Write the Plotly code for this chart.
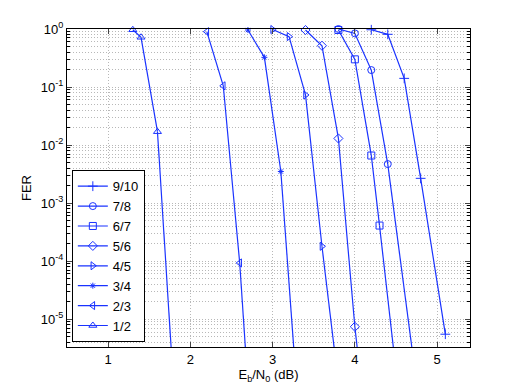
import plotly.graph_objects as go

# FER curves; last point of each sits below the y range
rates = ['9/10', '7/8', '6/7', '5/6', '4/5', '3/4', '2/3', '1/2']

ebn0_910 = [4.2, 4.4, 4.6, 4.8, 5.1]
fer_910 = [0.97, 0.81, 0.141, 0.00267, 5.5e-6]

ebn0_78 = [3.8, 4.0, 4.2, 4.4, 4.8]
fer_78 = [1.0, 0.84, 0.196, 0.0047, 2.3e-7]

ebn0_67 = [3.8, 4.0, 4.2, 4.3, 4.5]
fer_67 = [0.96, 0.30, 0.0066, 4.1e-4, 1.3e-6]

ebn0_56 = [3.4, 3.6, 3.8, 4.0, 4.1]
fer_56 = [0.96, 0.515, 0.013, 7.4e-6, 4e-7]

ebn0_45 = [3.0, 3.2, 3.4, 3.6, 3.8]
fer_45 = [0.98, 0.74, 0.073, 1.8e-4, 7.9e-7]

ebn0_34 = [2.7, 2.9, 3.1, 3.3]
fer_34 = [0.96, 0.325, 0.0035, 4.7e-7]

ebn0_23 = [2.2, 2.4, 2.6, 2.7]
fer_23 = [0.90, 0.105, 9.3e-5, 7e-7]

ebn0_12 = [1.3, 1.4, 1.6, 1.8]
fer_12 = [0.97, 0.72, 0.017, 5.6e-7]

xs = [ebn0_910, ebn0_78, ebn0_67, ebn0_56, ebn0_45, ebn0_34, ebn0_23, ebn0_12]
ys = [fer_910, fer_78, fer_67, fer_56, fer_45, fer_34, fer_23, fer_12]
symbols = ['cross-thin', 'circle-open', 'square-open', 'diamond-open',
           'triangle-right-open', 'asterisk-open', 'triangle-left-open',
           'triangle-up-open']
sizes = [7, 7, 7, 7, 7, 5, 7, 7]

x_ticks = [1, 2, 3, 4, 5]
y_ticks = [1e-5, 1e-4, 1e-3, 1e-2, 1e-1, 1]
y_ticktext = ['10<sup>-5</sup>', '10<sup>-4</sup>', '10<sup>-3</sup>',
              '10<sup>-2</sup>', '10<sup>-1</sup>', '10<sup>0</sup>']
y_minor = [k * 10.0 ** e for e in range(-6, 0) for k in range(2, 10)]

YMIN = 3.3e-6
BLUE = '#1a33ff'
GRID = '#b8b8b8'
DOTS = '1px,2px'

fig = go.Figure()
for name, x, y, sym, sz in zip(rates, xs, ys, symbols, sizes):
    vis_x = [a for a, b in zip(x, y) if b >= YMIN]
    vis_y = [b for b in y if b >= YMIN]
    # segment running off the bottom of the axes
    fig.add_trace(go.Scatter(x=x[len(vis_x) - 1:], y=y[len(vis_y) - 1:],
                             mode='lines', showlegend=False,
                             line=dict(color=BLUE, width=1.2)))
    fig.add_trace(go.Scatter(x=vis_x, y=vis_y, name=name,
                             mode='lines+markers', cliponaxis=False,
                             line=dict(color=BLUE, width=1.2),
                             marker=dict(symbol=sym, size=sz,
                                         color=BLUE,
                                         line=dict(color=BLUE, width=1))))

axis_font = dict(family='Liberation Sans, Arial, sans-serif', size=13, color='black')

fig.update_layout(
    width=519, height=391,
    margin=dict(l=67, r=49, t=29, b=44, autoexpand=False),
    paper_bgcolor='white', plot_bgcolor='white',
    font=axis_font,
    legend=dict(x=0.012, y=0.015, xanchor='left', yanchor='bottom',
                bgcolor='white', bordercolor='black', borderwidth=1,
                font=dict(family='Liberation Sans, Arial, sans-serif', size=13),
                tracegroupgap=0, itemwidth=30),
    xaxis=dict(range=[0.5, 5.4], tickvals=x_ticks, ticks='inside', ticklen=5,
               showline=True, linecolor='black', linewidth=1, mirror='ticks',
               showgrid=True, gridcolor=GRID, griddash=DOTS, gridwidth=1,
               zeroline=False, tickfont=axis_font, automargin=False,
               title=dict(text='E<sub>b</sub>/N<sub>0</sub> (dB)', standoff=4,
                          font=axis_font)),
    yaxis=dict(type='log', range=[-5.48, 0], tickvals=y_ticks, ticktext=y_ticktext,
               ticks='inside', ticklen=5, showline=True, linecolor='black',
               linewidth=1, mirror='ticks', showgrid=True, gridcolor=GRID,
               griddash=DOTS, gridwidth=1, zeroline=False, tickfont=axis_font,
               automargin=False,
               minor=dict(tickvals=y_minor, ticks='inside', ticklen=3,
                          tickcolor='black', showgrid=True, gridcolor=GRID,
                          griddash=DOTS, gridwidth=1),
               title=dict(text='FER', standoff=6, font=axis_font)),
)

# drop the browser's default 8px body margin so the figure sits at the corner
fig.write_html('out.html', config={'displayModeBar': False},
               post_script="document.body.style.margin='0px';")
